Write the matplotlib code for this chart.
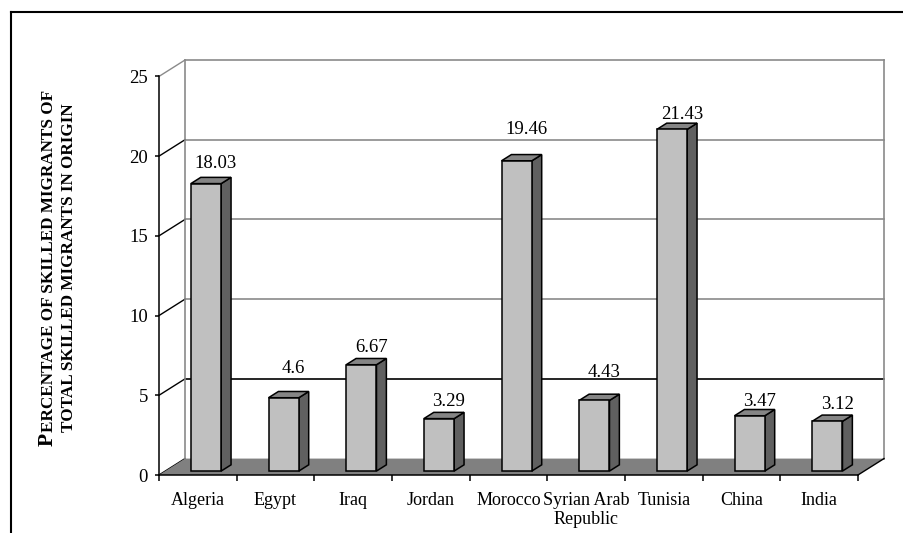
import numpy as np
import matplotlib.pyplot as plt
from matplotlib.patches import Polygon
from matplotlib.lines import Line2D

countries = ["Algeria", "Egypt", "Iraq", "Jordan", "Morocco",
             "Syrian Arab\nRepublic", "Tunisia", "China", "India"]
share = [18.03, 4.6, 6.67, 3.29, 19.46, 4.43, 21.43, 3.47, 3.12]
y_ticks = [0, 5, 10, 15, 20, 25]

# extra lift (px) of each value label above its bar
label_gap = [9, 18, 6, 6, 21, 17, 4, 3, 6]

# fake 3d: how far the back wall is shifted (data units)
DX, DY = 0.335, 1.03
D0, D1 = 0.24, 0.62      # front / back depth of the bars
BAR_L, BAR_W = 0.33, 0.39

FRONT, SIDE, TOP, FLOOR = "#c0c0c0", "#606060", "#858585", "#808080"
GRID = "#8a8a8a"
LW = 1.1
FS = 13.5

plt.rcParams["font.family"] = ["Liberation Serif", "DejaVu Serif"]

W, H = 904, 533
fig = plt.figure(figsize=(W / 100, H / 100), dpi=100)
ax = fig.add_axes([159 / W, (H - 475) / H, (884 - 159) / W, (475 - 60) / H])
n = len(countries)
ax.set_xlim(0, n + DX)
ax.set_ylim(0, y_ticks[-1] + DY)

# back wall + left wall lines
top = y_ticks[-1]
for y in y_ticks:
    if y > 0:
        ax.plot([DX, n + DX], [y + DY, y + DY], color="black" if y == 5 else GRID,
                lw=1.2, zorder=1, clip_on=False)
    ax.plot([0, DX], [y, y + DY], color=GRID if y == top else "black",
            lw=1.0, zorder=1, clip_on=False)
ax.plot([DX, DX], [DY, top + DY], color=GRID, lw=1.2, zorder=1, clip_on=False)
ax.plot([n + DX, n + DX], [DY, top + DY], color=GRID, lw=1.2, zorder=1, clip_on=False)

# floor
ax.add_patch(Polygon([(0, 0), (n, 0), (n + DX, DY), (DX, DY)], closed=True,
                     fc=FLOOR, ec="none", zorder=2, clip_on=False))
ax.plot([n, n + DX], [0, DY], color="black", lw=1.0, zorder=2, clip_on=False)

# bars: front faces from ax.bar, side and top faces added as polygons
x_front = np.arange(n) + BAR_L + D0 * DX
bars = ax.bar(x_front, share, width=BAR_W, bottom=D0 * DY, align="edge",
              color=FRONT, edgecolor="black", linewidth=LW, zorder=5)
sx, sy = (D1 - D0) * DX, (D1 - D0) * DY
for x0, v in zip(x_front, share):
    x1 = x0 + BAR_W
    yb, yt = D0 * DY, D0 * DY + v
    side = [(x1, yb), (x1 + sx, yb + sy), (x1 + sx, yt + sy), (x1, yt)]
    lid = [(x0, yt), (x1, yt), (x1 + sx, yt + sy), (x0 + sx, yt + sy)]
    ax.add_patch(Polygon(side, closed=True, fc=SIDE, ec="black", lw=LW, zorder=4))
    ax.add_patch(Polygon(lid, closed=True, fc=TOP, ec="black", lw=LW, zorder=4))

for x0, v, gap in zip(x_front, share, label_gap):
    ax.annotate(f"{v:g}", xy=(x0 + BAR_W / 2 + sx, v + D1 * DY),
                xytext=(0, gap), textcoords="offset pixels",
                ha="center", va="baseline", fontsize=FS, zorder=6)

# axes
for s in ["top", "right"]:
    ax.spines[s].set_visible(False)
ax.spines["left"].set_bounds(0, top)
ax.spines["bottom"].set_bounds(0, n)
for s in ["left", "bottom"]:
    ax.spines[s].set_linewidth(LW)
    ax.spines[s].set_zorder(3)
ax.set_yticks(y_ticks)
ax.tick_params(axis="y", length=3, width=LW, pad=5, labelsize=FS)
ax.set_xticks(np.arange(n + 1))
ax.set_xticklabels([])
ax.tick_params(axis="x", which="major", length=4, width=LW)
ax.set_xticks(np.arange(n) + 0.5, minor=True)
ax.set_xticklabels(countries, minor=True, fontsize=13, linespacing=1.15)
ax.tick_params(axis="x", which="minor", length=0, pad=12)

# y title in small caps, two lines
r = fig.canvas.get_renderer()
cy = (H - 268) / H
fig.text(73 / W, cy, "TOTAL SKILLED MIGRANTS IN ORIGIN", rotation=90,
         rotation_mode="anchor", ha="center", va="baseline",
         fontsize=12.3, fontweight="bold")
tp = fig.text(0, 0, "P", rotation=90, rotation_mode="anchor", ha="left",
              va="baseline", fontsize=15.5, fontweight="bold")
tr = fig.text(0, 0, "ERCENTAGE OF SKILLED MIGRANTS OF", rotation=90,
              rotation_mode="anchor", ha="left", va="baseline",
              fontsize=12.3, fontweight="bold")
hp = tp.get_window_extent(r).height
hr = tr.get_window_extent(r).height
y0 = cy * H - (hp + hr) / 2
tp.set_position((53 / W, y0 / H))
tr.set_position((53 / W, (y0 + hp) / H))

# outer frame (left and top edges only)
fig.add_artist(Line2D([11 / W, 11 / W], [0, 1 - 12 / H], color="black", lw=1.5,
                      transform=fig.transFigure))
fig.add_artist(Line2D([11 / W, 1], [1 - 12 / H, 1 - 12 / H], color="black", lw=1.5,
                      transform=fig.transFigure))

fig.savefig("out.png", dpi=100)
